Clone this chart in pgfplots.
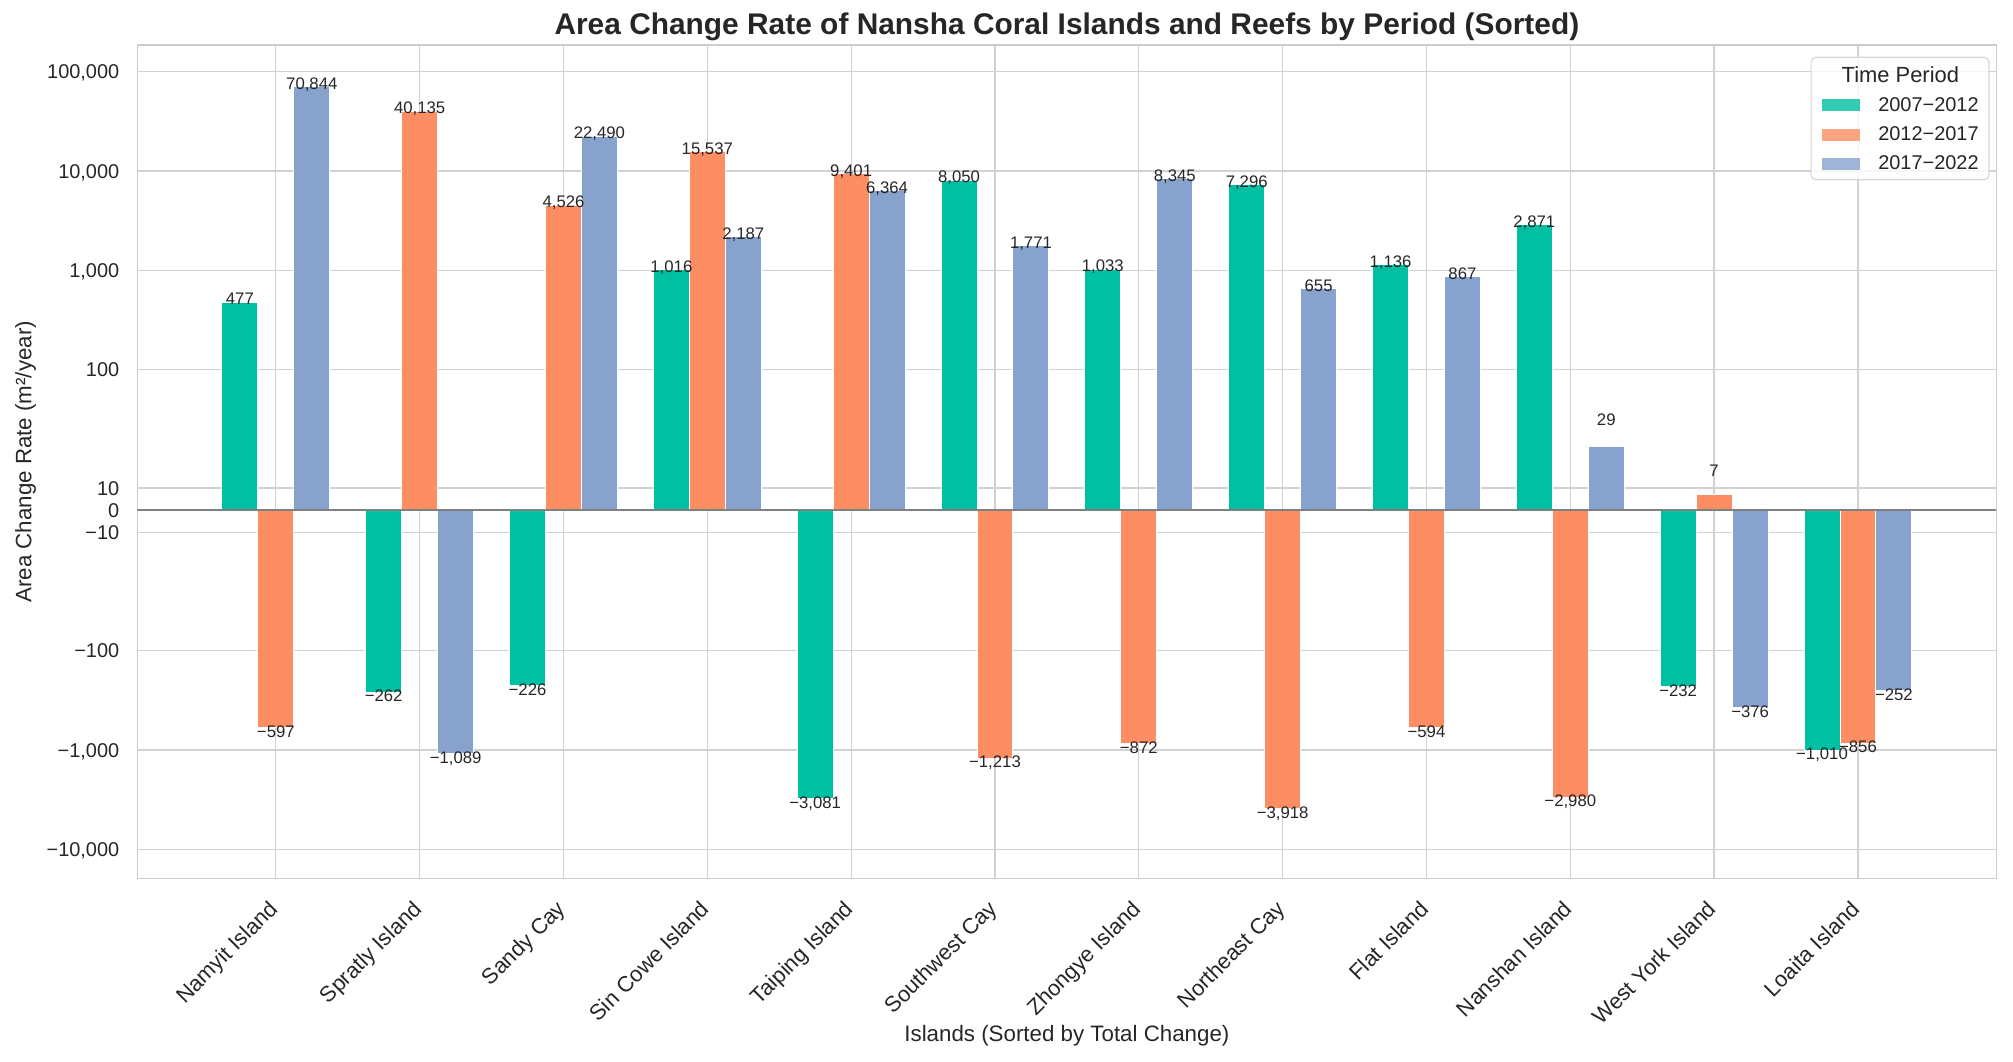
\documentclass[border=0pt]{standalone}
\usepackage{fontspec}
\setmainfont{Liberation Sans}
\usepackage{pgfplots}
\usepackage{pgfplotstable}
\pgfplotsset{compat=1.18}
\definecolor{cA}{RGB}{0,192,163}
\definecolor{cB}{RGB}{253,141,98}
\definecolor{cC}{RGB}{136,162,206}
\definecolor{textc}{RGB}{38,38,38}
\definecolor{gridc}{RGB}{210,210,210}
\definecolor{framec}{RGB}{204,204,204}
\definecolor{zeroc}{RGB}{128,128,128}
\definecolor{legc}{RGB}{215,215,215}

% i = island index, v = rate (m^2/year), dy = extra label lift (axis units)
\pgfplotstableread{
i v dy
0 477 0
1 -262 0
2 -226 0
3 1016 0
4 -3081 0
5 8050 0
6 1033 0
7 7296 0
8 1136 0
9 2871 0
10 -232 0
11 -1010 0
}\tabA
\pgfplotstableread{
i v dy
0 -597 0
1 40135 0
2 4526 0
3 15537 0
4 9401 0
5 -1213 0
6 -872 0
7 -3918 0
8 -594 0
9 -2980 0
10 7 0.207
11 -856 0
}\tabB
\pgfplotstableread{
i v dy
0 70844 0
1 -1089 0
2 22490 0
3 2187 0
4 6364 0
5 1771 0
6 8345 0
7 655 0
8 867 0
9 29 0.2355
10 -376 0
11 -252 0
}\tabC

\newcommand\numfmt[1]{\pgfmathprintnumber[fixed,precision=0,1000 sep={,},assume math mode=true]{#1}}
\newcommand\mylab{\pgfmathfloatifflags{\pgfplotspointmeta}{2}%
  {\pgfkeys{/pgf/fpu=true}\pgfmathparse{abs(\pgfplotspointmeta)}\let\tmpv\pgfmathresult\pgfkeys{/pgf/fpu=false}−\numfmt{\tmpv}}%
  {\numfmt{\pgfplotspointmeta}}}

\pgfplotsset{
  barleg/.style={legend image code/.code={\fill[##1,/tikz/.cd,draw=none,sharp corners] (0bp,-3.75bp) rectangle (19.4bp,2.25bp);}},
  labplot/.style={ybar, bar shift=0pt, bar width=0.25, draw=none, fill=none, forget plot,
    point meta=explicit,
    nodes near coords={\mylab},
    nodes near coords align={vertical},
    every node near coord/.append style={font=\fontsize{8.4}{10}\selectfont, text=textc,
      inner sep=0pt, text height=6.1bp, text depth=0pt}},
}

\begin{document}
\begin{tikzpicture}
\begin{axis}[
  name=ax,
  scale only axis,
  width=929.5bp, height=416.8bp,
  declare function={symlog(\x)=(\x>=0 ? 1 : -1)*(abs(\x)<=50 ? abs(\x)/45 : 1.1111111+log10(abs(\x)/50));},
  xmin=-0.9625, xmax=11.9625,
  ymin=-3.707, ymax=4.680,
  enlargelimits=false,
  axis line style={draw=framec, line width=0.8bp},
  xmajorgrids, ymajorgrids,
  major grid style={draw=gridc, line width=0.65bp},
  major tick length=0pt,
  xtick={0,1,2,3,4,5,6,7,8,9,10,11},
  xticklabels={Namyit Island,Spratly Island,Sandy Cay,Sin Cowe Island,Taiping Island,Southwest Cay,Zhongye Island,Northeast Cay,Flat Island,Nanshan Island,West York Island,Loaita Island},
  ytick={-3.412141,-2.412141,-1.412141,-0.222222,0,0.222222,1.412141,2.412141,3.412141,4.412141},
  yticklabels={{−10,000},{−1,000},{−100},{−10},{0},{10},{100},{1,000},{10,000},{100,000}},
  yticklabel style={font=\fontsize{10}{12}\selectfont, text=textc, inner sep=0pt, anchor=east, xshift=-8.9bp, text height=7.2bp, text depth=0pt},
  xticklabel style={font=\fontsize{11}{13}\selectfont, text=textc, inner sep=0pt, xshift=-4bp, yshift=-10bp, rotate=45, anchor=north east},
  title={Area Change Rate of Nansha Coral Islands and Reefs by Period (Sorted)},
  title style={at={(axis description cs:0.5,1)}, anchor=base, yshift=-0.8bp, inner sep=0pt, font=\bfseries\fontsize{15}{18}\selectfont, text=textc},
  xlabel={Islands (Sorted by Total Change)},
  xlabel style={at={(axis description cs:0.5,0)}, anchor=base, yshift=-81.5bp, inner sep=0pt, font=\fontsize{11.2}{13}\selectfont, text=textc},
  ylabel={Area Change Rate (m²/year)},
  ylabel style={at={([xshift=-53bp]axis description cs:0,0.5)}, anchor=base, inner sep=0pt, font=\fontsize{11.2}{13}\selectfont, text=textc},
  legend style={at={(axis description cs:1,1)}, anchor=north east, xshift=-3.4bp, yshift=-5.8bp,
    draw=legc, line width=0.6bp, rounded corners=2.5bp, fill=white, fill opacity=0.8, text opacity=1,
    inner xsep=5.2bp, inner ysep=5bp, row sep=7.1bp, column sep=9bp,
    nodes={inner sep=0pt, text height=7.5bp, text depth=0pt},
    font=\fontsize{10}{12}\selectfont, text=textc},
  legend cell align=left,
]
\addlegendimage{empty legend}
\addlegendentry{\hspace{-18.3bp}\fontsize{11}{13}\selectfont Time Period}

\addplot[ybar, bar shift=0pt, bar width=0.25, fill=cA, draw=white, line width=0.5bp, barleg]
  table[x expr=\thisrow{i}-0.25, y expr={symlog(\thisrow{v})}] {\tabA};
\addlegendentry{2007−2012}
\addplot[ybar, bar shift=0pt, bar width=0.25, fill=cB, draw=white, line width=0.5bp, barleg]
  table[x expr=\thisrow{i}, y expr={symlog(\thisrow{v})}] {\tabB};
\addlegendentry{2012−2017}
\addplot[ybar, bar shift=0pt, bar width=0.25, fill=cC, draw=white, line width=0.5bp, barleg]
  table[x expr=\thisrow{i}+0.25, y expr={symlog(\thisrow{v})}] {\tabC};
\addlegendentry{2017−2022}

\addplot[sharp plot, forget plot, draw=zeroc, line width=0.9bp, mark=none]
  coordinates {(-0.9625,0) (11.9625,0)};

\addplot[labplot] table[x expr=\thisrow{i}-0.25, y expr={symlog(\thisrow{v})+(\thisrow{v}>0 ? -0.03 : 0.03)+\thisrow{dy}}, meta=v] {\tabA};
\addplot[labplot] table[x expr=\thisrow{i}, y expr={symlog(\thisrow{v})+(\thisrow{v}>0 ? -0.03 : 0.03)+\thisrow{dy}}, meta=v] {\tabB};
\addplot[labplot] table[x expr=\thisrow{i}+0.25, y expr={symlog(\thisrow{v})+(\thisrow{v}>0 ? -0.03 : 0.03)+\thisrow{dy}}, meta=v] {\tabC};
\end{axis}
\pgfresetboundingbox
\path[use as bounding box] ([shift={(-68.7bp,-91.7bp)}]ax.south west) rectangle ([shift={(8.3bp,22.5bp)}]ax.north east);
\end{tikzpicture}
\end{document}
